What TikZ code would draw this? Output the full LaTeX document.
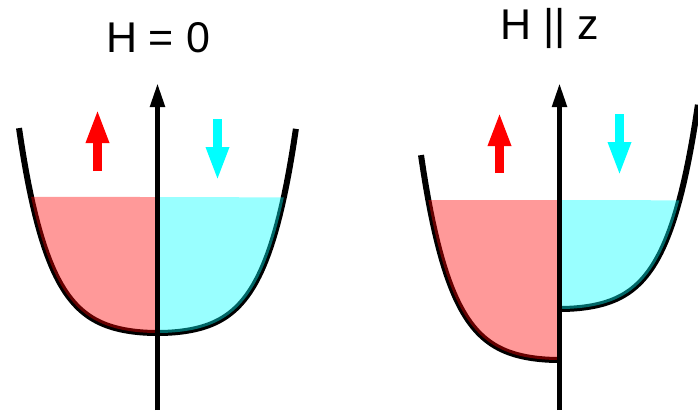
\documentclass[tikz,border=0pt]{standalone}
\usepackage{fontspec}
\setmainfont{Liberation Sans}
\usetikzlibrary{arrows.meta}
\definecolor{spinred}{RGB}{255,0,0}
\definecolor{spincyan}{RGB}{0,255,255}

\begin{document}
\begin{tikzpicture}[
    x=1pt, y=-1pt,
    declare function={wh(\t)=205*(cosh(4.57*\t)-1)/47.3;},
    band/.style={line width=6pt, line join=round},
    zaxis/.style={line width=5pt, -{Triangle[length=24pt, width=14pt]}},
    spin/.style={line width=8.5pt, -{Triangle[length=34pt, width=21pt]}},
    upfill/.style={fill=spinred, fill opacity=0.4},
    downfill/.style={fill=spincyan, fill opacity=0.4},
    heading/.style={font=\fontsize{43}{43}\selectfont, anchor=base, inner sep=0pt}
  ]
    \useasboundingbox (0,0) rectangle (698,412);

    % H = 0
    \node[heading] (title0) at (158,52.5) {H = 0};
    \draw[band] plot[domain=-1:1, samples=120, variable=\t] ({157.5+138.5*\t},{333-wh(\t)});
    \fill[upfill] plot[domain=-0.9126:0, samples=60, variable=\t] ({157.5+138.5*\t},{333-wh(\t)}) -- (157.5,197) -- cycle;
    \fill[downfill] plot[domain=0:0.9126, samples=60, variable=\t] ({157.5+138.5*\t},{333-wh(\t)}) -- (157.5,197) -- cycle;
    \coordinate (ax0b) at (157.5,410);
    \coordinate (ax0t) at (157.5,83);
    \draw[zaxis] (ax0b) -- (ax0t);
    \coordinate (up0a) at (97.5,171);
    \coordinate (up0b) at (97.5,109);
    \draw[spin, spinred] (up0a) -- (up0b);
    \coordinate (dn0a) at (217.5,119);
    \coordinate (dn0b) at (217.5,181);
    \draw[spin, spincyan] (dn0a) -- (dn0b);

    % H || z
    \node[heading] (title1) at (550,40) {H || z};
    \draw[band] plot[domain=-1:0, samples=60, variable=\t] ({559.5+138.5*\t},{360-wh(\t)});
    \draw[band] plot[domain=0:1, samples=60, variable=\t] ({559.5+138.5*\t},{309-wh(\t)});
    \fill[upfill] plot[domain=-0.9471:0, samples=60, variable=\t] ({559.5+138.5*\t},{360-wh(\t)}) -- (559.5,200) -- cycle;
    \fill[downfill] plot[domain=0:0.8658, samples=60, variable=\t] ({559.5+138.5*\t},{309-wh(\t)}) -- (559.5,200) -- cycle;
    \coordinate (ax1b) at (559.5,410);
    \coordinate (ax1t) at (559.5,83);
    \draw[zaxis] (ax1b) -- (ax1t);
    \coordinate (up1a) at (499.5,173);
    \coordinate (up1b) at (499.5,112);
    \draw[spin, spinred] (up1a) -- (up1b);
    \coordinate (dn1a) at (619.5,114);
    \coordinate (dn1b) at (619.5,176);
    \draw[spin, spincyan] (dn1a) -- (dn1b);
\end{tikzpicture}
\end{document}
